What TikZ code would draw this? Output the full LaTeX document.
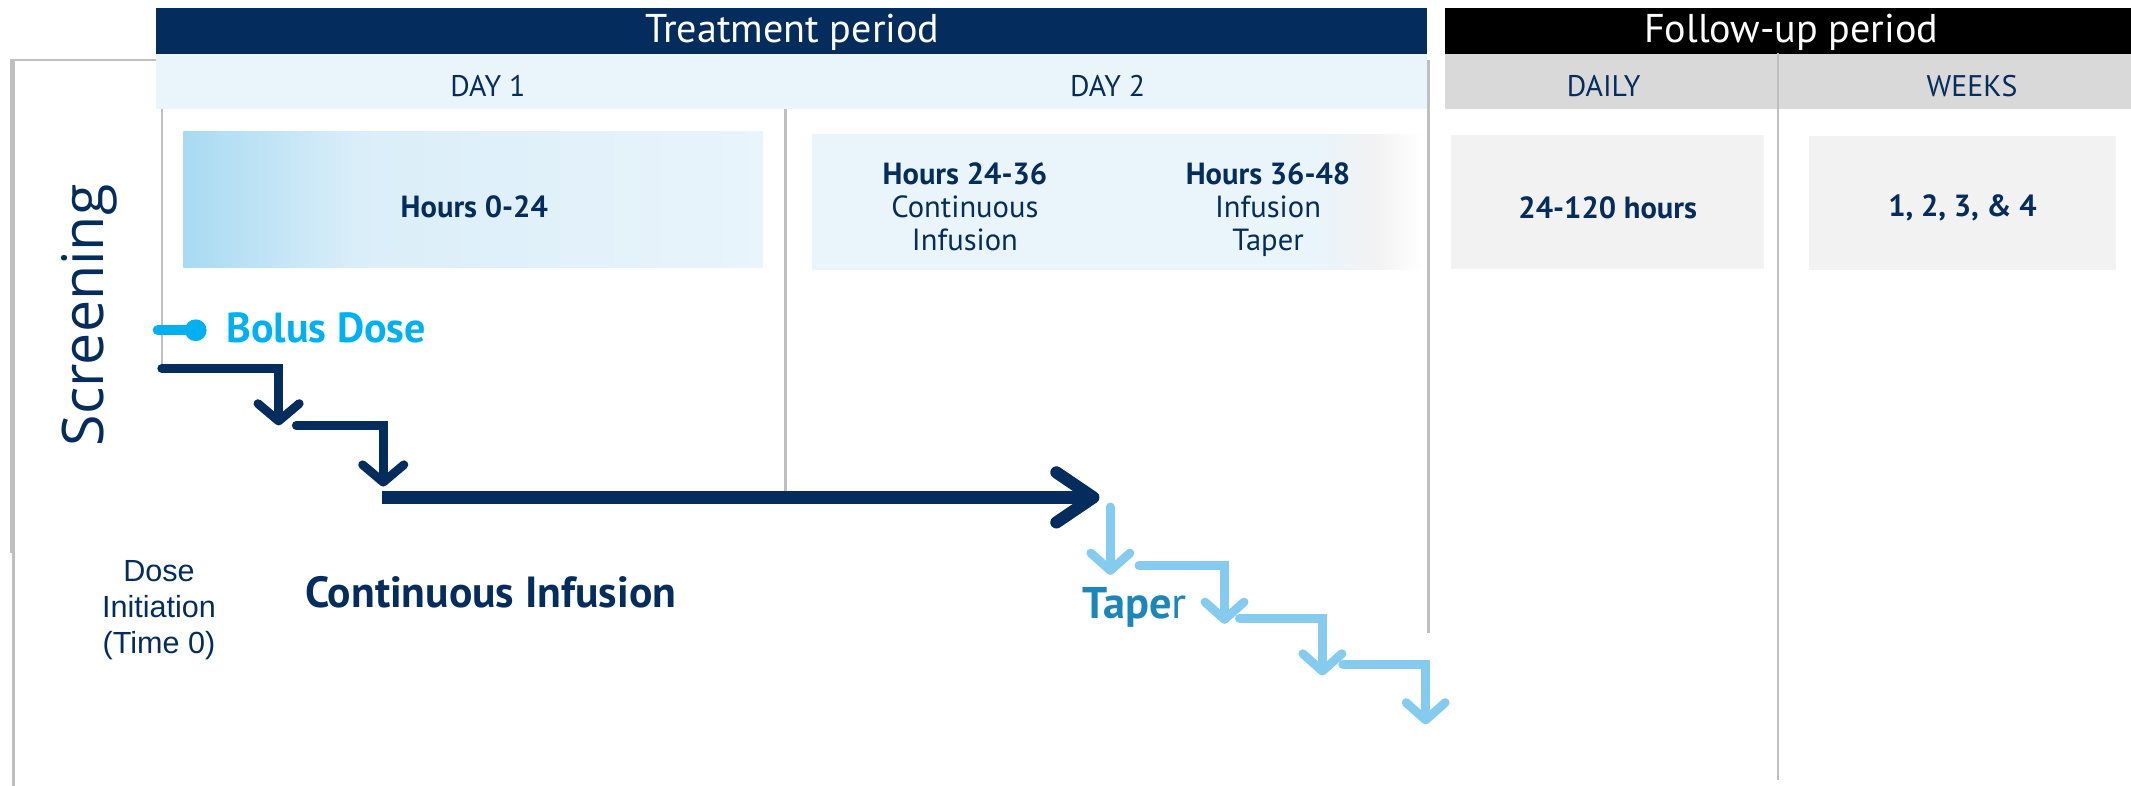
\documentclass[tikz,border=0pt]{standalone}
\usepackage{fontspec}
\setmainfont{PT Sans}
\newfontfamily\screenfont{Open Sans}
\newfontfamily\notefont{Liberation Sans}
\usetikzlibrary{arrows.meta}

\definecolor{navy}{HTML}{042C5C}
\definecolor{bandblue}{HTML}{EAF5FB}
\definecolor{bandgrey}{HTML}{D9D9D9}
\definecolor{boxgrey}{HTML}{F2F2F2}
\definecolor{lineg}{HTML}{BFBFBF}
\definecolor{bolus}{HTML}{00B0F0}
\definecolor{taper}{HTML}{85CBEF}
\definecolor{tapertext}{HTML}{1B86BA}
\definecolor{fadeA}{HTML}{A8DAF2}
\definecolor{fadeB}{HTML}{DAEEF9}
\definecolor{fadeC}{HTML}{E9F4FB}

% colour runs for the two hour boxes (path edges sit at 25bp and 75bp)
\pgfdeclarehorizontalshading{hoursfade}{100bp}{color(0bp)=(fadeA); color(25bp)=(fadeA); color(40bp)=(fadeB); color(75bp)=(fadeC); color(100bp)=(fadeC)}
\pgfdeclarehorizontalshading{dayfade}{100bp}{color(0bp)=(fadeC); color(25bp)=(fadeC); color(66bp)=(fadeC); color(71bp)=(boxgrey); color(75bp)=(white); color(100bp)=(white)}

\tikzset{
    head/.style={text=white, anchor=base, font=\fontsize{10.5}{12}\selectfont},
    daylabel/.style={text=navy, anchor=base, font=\fontsize{7.8}{9}\selectfont},
    hours/.style={text=navy, align=center, font=\fontsize{8}{8.6}\selectfont},
    divider/.style={draw=lineg, line width=0.6pt},
    stepline/.style={navy, line width=2.3pt, line cap=round, -{Straight Barb[length=1.6mm, width=3.8mm, round]}},
    mainline/.style={navy, line width=3.2pt, -{Straight Barb[length=3.4mm, width=4.6mm, round]}},
    taperline/.style={taper, line width=2.3pt, line cap=round, -{Straight Barb[length=1.6mm, width=3.6mm, round]}}
}

\begin{document}
\begin{tikzpicture}[x=0.125mm, y=-0.125mm]

    \useasboundingbox (0,0) rectangle (1568,578);

    % Period bars and the day bands under them
    \fill[navy] (115,6) rectangle (1050,40);
    \fill[black] (1063,6) rectangle (1568,40);
    \fill[bandblue] (115,40) rectangle (1050,80);
    \fill[bandgrey] (1063,40) rectangle (1568,80);
    \node[head] (treat) at (583,31.5) {Treatment period};
    \node[head] (follow) at (1318,31.5) {Follow-up period};
    \node[daylabel] (day1) at (359,71) {DAY 1};
    \node[daylabel] (day2) at (815,71) {DAY 2};
    \node[daylabel] (daily) at (1180,71) {DAILY};
    \node[daylabel] (weeks) at (1451,71) {WEEKS};

    % Grey column lines
    \draw[divider] (115,44) -| (8,407);
    \draw[divider] (10,44) -- (10,578);
    \draw[divider] (119,80) -- (119,271);
    \draw[divider] (578,80) -- (578,366);
    \draw[divider] (1051,44) -- (1051,466);
    \draw[divider] (1308,39) -- (1308,574);

    % Hour boxes
    \shade[shading=hoursfade] (135,97) rectangle (561,197);
    \shade[shading=dayfade] (598,99) rectangle (1047,198);
    \fill[boxgrey] (1068,99) rectangle (1298,198);
    \fill[boxgrey] (1331,100) rectangle (1557,199);
    \node[hours] (h0) at (349,152) {\bfseries Hours 0-24};
    \node[hours] (h24) at (710,152) {\textbf{Hours 24-36}\\Continuous\\Infusion};
    \node[hours] (h36) at (933,154) {\textbf{Hours 36-48}\\Infusion\\Taper};
    \node[hours] (h120) at (1183,153) {\bfseries 24-120 hours};
    \node[hours] (wk) at (1444,153) {\bfseries 1, 2, 3, \& 4};

    % Side labels
    \node[text=navy, rotate=90, font=\screenfont\fontsize{15}{18}\selectfont] (screening) at (66,232) {Screening};
    \node[text=navy, align=center, font=\notefont\fontsize{8}{9.4}\selectfont] (doseinit) at (117,449) {Dose\\Initiation\\(Time 0)};

    % Bolus dose marker
    \coordinate (bstart) at (116,243);
    \node[circle, fill=bolus, inner sep=0pt, minimum size=2mm] (bdot) at (144,243) {};
    \draw[bolus, line width=2.6pt, line cap=round] (bstart) -- (bdot.center);
    \node[text=bolus, anchor=base west, inner sep=0pt, font=\bfseries\fontsize{11}{13}\selectfont] (boluslabel) at (166,252) {Bolus Dose};

    % Loading steps and the continuous infusion
    \coordinate (s1a) at (119,271);
    \coordinate (s1b) at (205,313);
    \coordinate (s2a) at (218,313);
    \coordinate (s2b) at (282,358);
    \coordinate (ma) at (281,366);
    \coordinate (mb) at (809,366);
    \draw[stepline] (s1a) -| (s1b);
    \draw[stepline] (s2a) -| (s2b);
    \draw[mainline] (ma) -- (mb);
    \node[text=navy, anchor=base, font=\bfseries\fontsize{11.4}{13}\selectfont] (contlabel) at (361,447) {Continuous Infusion};

    % Taper steps
    \coordinate (t0a) at (817,373);
    \coordinate (t0b) at (817,423);
    \coordinate (ta1) at (838,416);
    \coordinate (tb1) at (901,459);
    \coordinate (ta2) at (912,455);
    \coordinate (tb2) at (973,497);
    \coordinate (ta3) at (988,489);
    \coordinate (tb3) at (1049,533);
    \draw[taperline] (t0a) -- (t0b);
    \foreach \k in {1,2,3} {
        \draw[taperline] (ta\k) -| (tb\k);
    }
    \node[text=tapertext, anchor=base west, inner sep=0pt, font=\fontsize{11.6}{13}\selectfont] (taperlabel) at (796,455) {\textbf{Tape}r};

\end{tikzpicture}
\end{document}
